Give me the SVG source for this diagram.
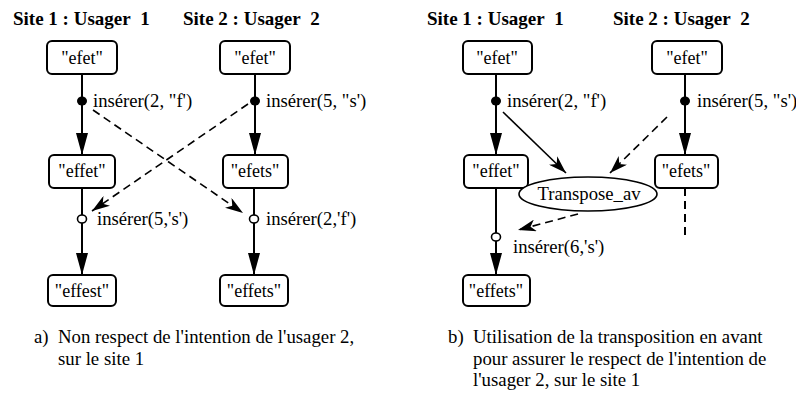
<svg xmlns="http://www.w3.org/2000/svg" width="796" height="393" viewBox="0 0 796 393">
<defs>
<marker id="ah" markerWidth="22" markerHeight="12" viewBox="0 0 22 12" refX="22" refY="6" orient="auto" markerUnits="userSpaceOnUse">
<path d="M0,0 L22,6 L0,12 Z" fill="#000"/>
</marker>
<marker id="bh" markerWidth="18" markerHeight="12" viewBox="0 0 18 12" refX="18" refY="6" orient="auto" markerUnits="userSpaceOnUse">
<path d="M0,0 L18,6 L0,12 L5,6 Z" fill="#000"/>
</marker>
</defs>
<g id="titles" font-family="Liberation Serif" font-size="19" font-weight="bold">
<text x="13" y="25">Site 1 : Usager&#160; 1</text>
<text x="183" y="25">Site 2 : Usager&#160; 2</text>
<text x="427" y="25">Site 1 : Usager&#160; 1</text>
<text x="613" y="25">Site 2 : Usager&#160; 2</text>
</g>
<g id="connectors" stroke="#000" fill="none">
<g stroke-width="2">
<line x1="82" y1="74" x2="82" y2="155" marker-end="url(#ah)"/>
<line x1="255" y1="74" x2="255" y2="155" marker-end="url(#ah)"/>
<line x1="82" y1="188" x2="82" y2="275" marker-end="url(#ah)"/>
<line x1="254" y1="188" x2="254" y2="275" marker-end="url(#ah)"/>
<line x1="496" y1="74" x2="496" y2="155" marker-end="url(#ah)"/>
<line x1="685" y1="74" x2="685" y2="155" marker-end="url(#ah)"/>
<line x1="496" y1="188" x2="496" y2="275" marker-end="url(#ah)"/>
<line x1="685" y1="188" x2="685" y2="239" stroke-dasharray="8 5"/>
</g>
<g stroke-width="1.6">
<line x1="93" y1="110" x2="243" y2="213" stroke-dasharray="8 5" marker-end="url(#bh)"/>
<line x1="248" y1="104" x2="92" y2="211" stroke-dasharray="8 5" marker-end="url(#bh)"/>
<line x1="503" y1="112" x2="566" y2="173" marker-end="url(#bh)"/>
<line x1="667" y1="117" x2="610" y2="173" stroke-dasharray="8 5" marker-end="url(#bh)"/>
<line x1="578" y1="214" x2="518" y2="230" stroke-dasharray="8 5" marker-end="url(#bh)"/>
</g>
<g fill="#000" stroke="none">
<ellipse cx="82" cy="101" rx="5" ry="4.5"/>
<ellipse cx="255" cy="101" rx="5" ry="4.5"/>
<ellipse cx="496" cy="101" rx="5" ry="4.5"/>
<ellipse cx="685" cy="101" rx="5" ry="4.5"/>
</g>
<g fill="#fff" stroke-width="1.6">
<ellipse cx="82" cy="219" rx="4.5" ry="4"/>
<ellipse cx="254" cy="219" rx="4.5" ry="4"/>
<ellipse cx="496" cy="237" rx="4.5" ry="4"/>
</g>
</g>
<g id="labels" font-family="Liberation Serif" font-size="18.7">
<text x="93" y="107">insérer(2, "f')</text>
<text x="266" y="107">insérer(5, "s')</text>
<text x="97" y="225">insérer(5,'s')</text>
<text x="266" y="225">insérer(2,'f')</text>
<text x="507" y="107">insérer(2, "f')</text>
<text x="697" y="107">insérer(5, "s')</text>
<text x="513" y="253">insérer(6,'s')</text>
</g>
<g id="nodes" font-family="Liberation Serif" font-size="18" text-anchor="middle">
<g id="a_efet1"><rect x="47" y="41" width="70" height="33" rx="5" fill="#fff" stroke="#000" stroke-width="2"/><text x="82" y="64">"efet"</text></g>
<g id="a_efet2"><rect x="220" y="41" width="70" height="33" rx="5" fill="#fff" stroke="#000" stroke-width="2"/><text x="255" y="64">"efet"</text></g>
<g id="a_effet"><rect x="49" y="155" width="66" height="33" rx="5" fill="#fff" stroke="#000" stroke-width="2"/><text x="82" y="177">"effet"</text></g>
<g id="a_efets"><rect x="223" y="155" width="65" height="33" rx="5" fill="#fff" stroke="#000" stroke-width="2"/><text x="255" y="177">"efets"</text></g>
<g id="a_effest"><rect x="48" y="275" width="68" height="31" rx="5" fill="#fff" stroke="#000" stroke-width="2"/><text x="82" y="297">"effest"</text></g>
<g id="a_effets"><rect x="220" y="275" width="68" height="31" rx="5" fill="#fff" stroke="#000" stroke-width="2"/><text x="254" y="297">"effets"</text></g>
<g id="b_efet1"><rect x="463" y="41" width="69" height="33" rx="5" fill="#fff" stroke="#000" stroke-width="2"/><text x="497" y="64">"efet"</text></g>
<g id="b_efet2"><rect x="652" y="41" width="70" height="33" rx="5" fill="#fff" stroke="#000" stroke-width="2"/><text x="687" y="64">"efet"</text></g>
<g id="b_effet"><rect x="464" y="155" width="64" height="33" rx="5" fill="#fff" stroke="#000" stroke-width="2"/><text x="496" y="177">"effet"</text></g>
<g id="b_efets"><rect x="655" y="155" width="63" height="33" rx="5" fill="#fff" stroke="#000" stroke-width="2"/><text x="686" y="177">"efets"</text></g>
<g id="b_effets"><rect x="463" y="275" width="67" height="31" rx="5" fill="#fff" stroke="#000" stroke-width="2"/><text x="496" y="297">"effets"</text></g>
<g id="b_transpose"><ellipse cx="588" cy="194" rx="69" ry="17" fill="#fff" stroke="#000" stroke-width="1.6"/><text x="589" y="200" font-size="18.7">Transpose_av</text></g>
</g>
<g id="captions" font-family="Liberation Serif" font-size="18.8">
<text x="34" y="343">a)&#160; Non respect de l'intention de l'usager 2,</text>
<text x="58" y="365">sur le site 1</text>
<text x="448" y="343">b)&#160; Utilisation de la transposition en avant</text>
<text x="473" y="365">pour assurer le respect de l'intention de</text>
<text x="473" y="386">l'usager 2, sur le site 1</text>
</g>
</svg>
